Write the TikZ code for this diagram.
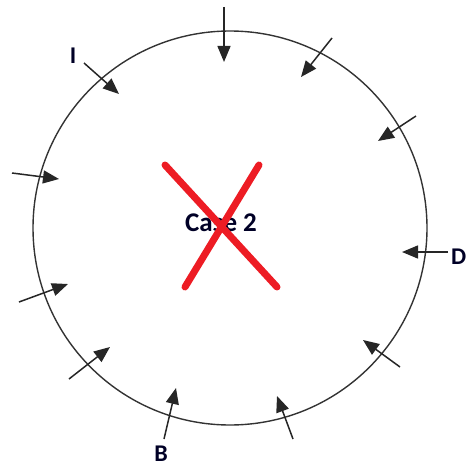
\documentclass[tikz,border=0pt]{standalone}
\usepackage{fontspec}
\setmainfont{Carlito}
\usetikzlibrary{arrows.meta}

\definecolor{crossred}{RGB}{237,28,36}

\begin{document}
\begin{tikzpicture}[
  x=1pt,y=-1pt,
  font=\fontsize{24}{28}\selectfont\bfseries,
  ringline/.style={circle,draw=black!80,line width=1.4pt,minimum size=394pt,inner sep=0pt},
  lbl/.style={inner sep=0pt,text=black!85!blue},
  arr/.style={-{Triangle[length=16pt,width=13pt]},line width=1.5pt,black!85},
  crossline/.style={crossred,line width=7pt,line cap=round},
]
\useasboundingbox (0,0) rectangle (466,468);

% ---- Ring ----------------------------------------------------------------
\node[ringline] (ring) at (230,228) {};

% ---- Centre text and cross -----------------------------------------------
\node[lbl,font=\fontsize{27}{30}\selectfont\bfseries] (caseTxt) at (221,223) {Case 2};
\coordinate (xa1) at (165,165);
\coordinate (xa2) at (277,287);
\coordinate (xb1) at (259,165);
\coordinate (xb2) at (185,287);
\draw[crossline] (xa1) -- (xa2);
\draw[crossline] (xb1) -- (xb2);

% ---- Arrows pointing into the ring ---------------------------------------
\foreach \i/\tx/\ty/\hx/\hy in {
  1/224/7/224/62,    2/332/38/301/77,   3/416/116/378/141,
  4/448/252/402/252, 5/400/367/363/340, 6/293/439/277/396,
  7/164/439/176/388, 8/69/379/110/347,  9/19/302/68/284,
  10/12/173/59/179,  11/84/63/119/94}{
  \coordinate (tail\i) at (\tx,\ty);
  \coordinate (head\i) at (\hx,\hy);
  \draw[arr] (tail\i) -- (head\i);
}

% ---- Labels --------------------------------------------------------------
\node[lbl] (lblI) at (73,56) {I};
\node[lbl] (lblB) at (161,454) {B};
\node[lbl,anchor=west] (lblD) at (451,257) {D};

\end{tikzpicture}
\end{document}
